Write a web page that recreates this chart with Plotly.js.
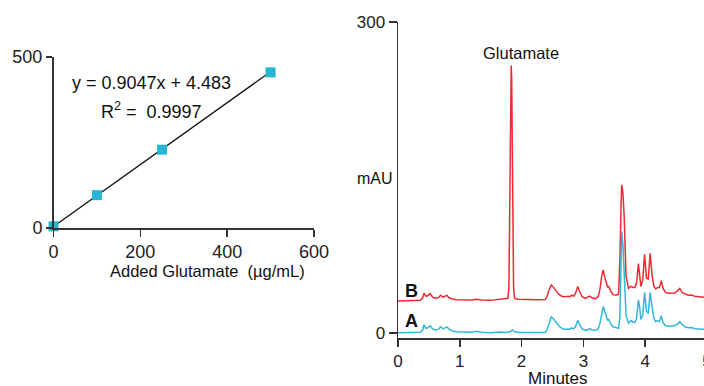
<!DOCTYPE html>
<html>
<head>
<meta charset="utf-8">
<script src="https://cdn.plot.ly/plotly-3.0.1.min.js"></script>
<style>
html,body{margin:0;padding:0;overflow:hidden;background:#fff;width:704px;height:386px;}
#chart{width:720px;height:386px;}
</style>
</head>
<body>
<div id="chart"></div>
<script>
// Calibration data
const addedGlutamate = [0, 100, 250, 500];
const measuredGlutamate = [5, 96, 229, 455];
const fitSlope = 0.9047;
const fitIntercept = 4.483;
const fitRange = [0, 500];
const calXTicks = [0, 200, 400, 600];
const calYTicks = [0, 500];

// Chromatogram A (cyan)
const timeA = [0, 0.3, 0.36, 0.40, 0.42, 0.45, 0.48, 0.52, 0.56, 0.60, 0.65, 0.69, 0.73, 0.76, 0.79, 0.83, 0.88, 0.95, 1.05, 1.20, 1.27, 1.35, 1.50, 1.65, 1.75, 1.82, 1.85, 1.88, 1.95, 2.10, 2.25, 2.38, 2.41, 2.44, 2.48, 2.51, 2.55, 2.60, 2.65, 2.70, 2.75, 2.78, 2.81, 2.84, 2.87, 2.91, 2.94, 2.98, 3.03, 3.07, 3.10, 3.14, 3.19, 3.24, 3.27, 3.30, 3.32, 3.35, 3.37, 3.39, 3.41, 3.44, 3.48, 3.53, 3.57, 3.59, 3.61, 3.62, 3.64, 3.66, 3.69, 3.73, 3.77, 3.80, 3.83, 3.86, 3.89, 3.91, 3.93, 3.96, 3.99, 4.02, 4.05, 4.08, 4.11, 4.14, 4.17, 4.20, 4.23, 4.26, 4.29, 4.33, 4.40, 4.48, 4.53, 4.56, 4.60, 4.65, 4.70, 4.75, 4.80, 4.88, 4.96];
const signalA = [0.3, 0.3, 0.8, 3, 8, 4.5, 5, 7, 4, 3, 3.5, 6, 4, 5, 5.8, 3.5, 2, 1.2, 0.8, 0.8, 1.6, 0.8, 0.3, 1, 0.6, 1.5, 3, 1.5, 0.5, 0.3, 0.2, 0.5, 3, 9, 15.5, 14, 11, 7, 4.5, 3.5, 3.8, 3.5, 5, 4, 6, 12.3, 8, 4, 2.8, 3, 4.2, 3, 2.6, 4, 10, 22, 25.5, 20, 15, 12.5, 13, 9, 6, 5, 4.5, 15, 75, 98, 85, 50, 17, 9.5, 12, 10.5, 10, 14, 32, 25, 13, 17, 39, 21, 19, 39, 24, 14, 11, 12, 11, 16.5, 10, 7, 6.5, 7.2, 9, 11, 8, 5.8, 5, 5.2, 4.2, 4, 3.5];

// Chromatogram B (red)
const timeB = [0, 0.3, 0.36, 0.40, 0.42, 0.45, 0.48, 0.52, 0.56, 0.60, 0.65, 0.69, 0.73, 0.76, 0.79, 0.83, 0.88, 0.95, 1.05, 1.20, 1.27, 1.35, 1.50, 1.65, 1.75, 1.78, 1.795, 1.805, 1.815, 1.825, 1.832, 1.84, 1.85, 1.86, 1.87, 1.885, 1.90, 1.95, 2.10, 2.25, 2.38, 2.41, 2.44, 2.48, 2.51, 2.55, 2.60, 2.65, 2.70, 2.75, 2.78, 2.81, 2.84, 2.87, 2.91, 2.94, 2.98, 3.03, 3.07, 3.10, 3.14, 3.19, 3.24, 3.27, 3.30, 3.32, 3.35, 3.37, 3.39, 3.41, 3.44, 3.48, 3.53, 3.57, 3.59, 3.61, 3.62, 3.64, 3.66, 3.69, 3.73, 3.77, 3.80, 3.83, 3.86, 3.89, 3.91, 3.93, 3.96, 3.99, 4.02, 4.05, 4.08, 4.11, 4.14, 4.17, 4.20, 4.23, 4.26, 4.29, 4.33, 4.40, 4.48, 4.53, 4.56, 4.60, 4.65, 4.70, 4.75, 4.80, 4.88, 4.96];
const signalB = [31, 31, 31.5, 34, 38.5, 35.5, 36, 38, 34.5, 33.5, 34, 36.5, 34.5, 35.5, 36.3, 34, 32.8, 32, 31.8, 31.8, 32.6, 31.8, 31.5, 32.3, 32.8, 33.5, 45, 100, 185, 245, 258, 245, 185, 100, 45, 34, 33, 32.5, 32, 32, 32.3, 35, 41, 46.3, 44.5, 41, 37.5, 35.5, 35, 35.5, 35, 36.5, 35.5, 38, 45, 39.5, 35, 33.5, 34.5, 35.7, 34, 33, 35, 43, 56, 60.8, 53, 47, 44.5, 45, 40.5, 37, 36.5, 37.5, 70, 125, 143, 135, 112, 55, 43, 45, 44, 44, 48, 67, 57, 45, 51, 76, 53, 52, 77, 56, 45, 42.5, 44, 44, 50.5, 43, 39, 38.3, 38.5, 41, 43, 39, 37.5, 36.5, 36.7, 35.5, 35, 34.4];
const timeTicks = [0, 1, 2, 3, 4, 5];
const chromYTicks = [0, 300];

const W = 720, H = 386;
const px = x => x / W;
const py = y => 1 - y / H;
const FONT = 'Liberation Sans, Arial, sans-serif';
const AX = '#333333';
const RED = '#EE2A35';
const CYAN = '#2DB8D8';

const fitY = fitRange.map(x => fitSlope * x + fitIntercept);

const traces = [
  {x: fitRange, y: fitY, mode: 'lines', line: {color: '#111', width: 1.3}, xaxis: 'x', yaxis: 'y', hoverinfo: 'skip'},
  {x: addedGlutamate, y: measuredGlutamate, mode: 'markers', cliponaxis: false,
   marker: {symbol: 'square', size: 10, color: '#24B6D3'}, xaxis: 'x', yaxis: 'y'},
  {x: timeB, y: signalB, mode: 'lines', line: {color: RED, width: 1.5}, xaxis: 'x2', yaxis: 'y2'},
  {x: timeA, y: signalA, mode: 'lines', line: {color: CYAN, width: 1.5}, xaxis: 'x2', yaxis: 'y2'}
];

const axBase = {showgrid: false, zeroline: false, showline: true, linecolor: AX, linewidth: 1.5,
  ticks: 'outside', tickcolor: AX, tickwidth: 1.5, tickfont: {family: FONT, size: 18, color: '#222'}, fixedrange: true};

const layout = {
  width: W, height: H,
  margin: {l: 0, r: 0, t: 0, b: 0},
  paper_bgcolor: '#fff', plot_bgcolor: 'rgba(0,0,0,0)',
  showlegend: false,
  font: {family: FONT, color: '#222'},
  xaxis: Object.assign({}, axBase, {domain: [px(53.5), px(314)], range: [0, 600], tickvals: calXTicks, ticklen: 7, anchor: 'y'}),
  yaxis: Object.assign({}, axBase, {domain: [py(228), py(57)], range: [0, 500], tickvals: calYTicks, ticklen: 6, anchor: 'x'}),
  xaxis2: Object.assign({}, axBase, {domain: [px(398), px(707)], range: [0, 5], tickvals: timeTicks, ticklen: 7, anchor: 'y2', tickfont: {family: FONT, size: 17, color: '#222'}}),
  yaxis2: Object.assign({}, axBase, {domain: [py(338), py(22)], range: [-4.8, 300], tickvals: chromYTicks, ticklen: 8, anchor: 'x2', tickfont: {family: FONT, size: 17, color: '#222'}}),
  annotations: [
    {text: 'y = 0.9047x + 4.483', x: px(151), y: py(83), size: 18},
    {text: 'R<sup>2</sup> =\u00a0 0.9997', x: px(151), y: py(110), size: 18},
    {text: 'Added Glutamate\u00a0 (µg/mL)', x: px(208), y: py(271), size: 16.5},
    {text: 'Glutamate', x: px(521), y: py(53), size: 16.5},
    {text: 'mAU', x: px(375), y: py(178), size: 16},
    {text: 'Minutes', x: px(558), y: py(378), size: 17},
    {text: '<b>B</b>', x: px(411), y: py(291), size: 18},
    {text: '<b>A</b>', x: px(411), y: py(321), size: 18}
  ].map(a => ({text: a.text, x: a.x, y: a.y, xref: 'paper', yref: 'paper', xanchor: 'center', yanchor: 'middle',
               showarrow: false, font: {family: FONT, size: a.size, color: '#111'}}))
};

Plotly.newPlot('chart', traces, layout, {staticPlot: true, displayModeBar: false});
</script>
</body>
</html>
